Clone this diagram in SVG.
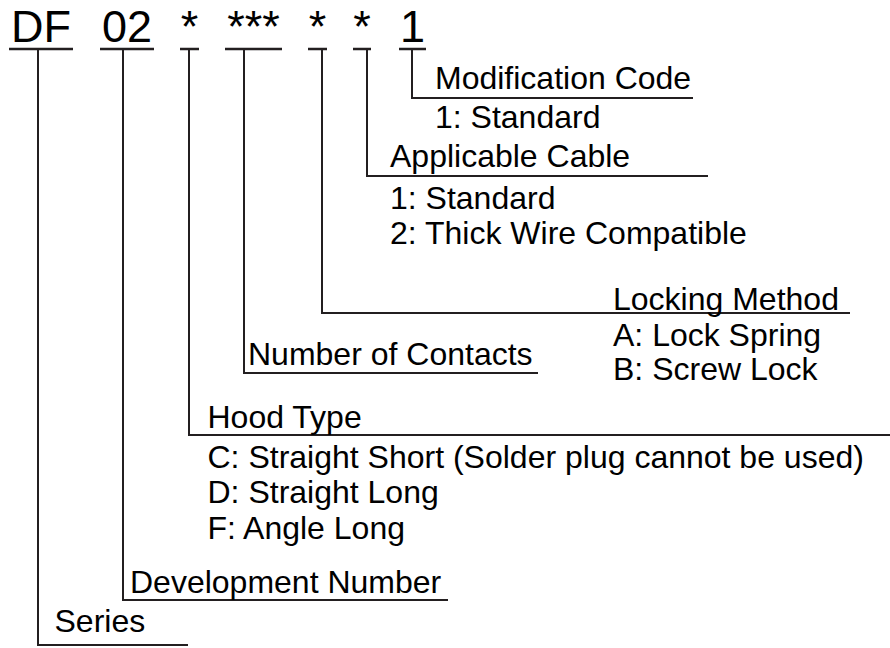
<svg xmlns="http://www.w3.org/2000/svg" width="890" height="648" viewBox="0 0 890 648">
<style>
text{font-family:"Liberation Sans",Arial,Helvetica,sans-serif;fill:#000}
.code{font-size:45px;text-anchor:middle}
.lbl{font-size:32px}
.ln{stroke:#231f20;stroke-width:2;fill:none}
.ul{stroke:#231f20;stroke-width:2.5;fill:none}
</style>
<rect width="890" height="648" fill="#fff"/>
<g id="code">
<text class="code" x="41" y="41.5">DF</text>
<text class="code" x="127" y="41.5">02</text>
<text class="code" x="189.5" y="41.5">*</text>
<text class="code" x="253.5" y="41.5">***</text>
<text class="code" x="317.5" y="41.5">*</text>
<text class="code" x="362" y="41.5">*</text>
<text class="code" x="412.5" y="41.5">1</text>
<path class="ul" d="M9 49H73M100 49H154M180 49H199M225 49H282M308 49H327M353 49H371M399 49H426"/>
</g>
<g id="connectors">
<path class="ln" d="M38 49V645H188"/>
<path class="ln" d="M123 49V600H448"/>
<path class="ln" d="M189 49V435H890"/>
<path class="ln" d="M244 49V373H538"/>
<path class="ln" d="M322 49V313H850"/>
<path class="ln" d="M367 49V176H708"/>
<path class="ln" d="M412 49V98H693"/>
</g>
<g id="modification">
<text class="lbl" x="435" y="89">Modification Code</text>
<text class="lbl" x="435" y="128">1: Standard</text>
</g>
<g id="cable">
<text class="lbl" x="390" y="167">Applicable Cable</text>
<text class="lbl" x="390" y="209">1: Standard</text>
<text class="lbl" x="390" y="244">2: Thick Wire Compatible</text>
</g>
<g id="locking">
<text class="lbl" x="613" y="310">Locking Method</text>
<text class="lbl" x="613" y="346">A: Lock Spring</text>
<text class="lbl" x="613" y="380">B: Screw Lock</text>
</g>
<g id="contacts">
<text class="lbl" x="248" y="365">Number of Contacts</text>
</g>
<g id="hood">
<text class="lbl" x="207.5" y="428">Hood Type</text>
<text class="lbl" x="207.5" y="468">C: Straight Short (Solder plug cannot be used)</text>
<text class="lbl" x="207.5" y="503">D: Straight Long</text>
<text class="lbl" x="207.5" y="539">F: Angle Long</text>
</g>
<g id="development">
<text class="lbl" x="130" y="593">Development Number</text>
</g>
<g id="series">
<text class="lbl" x="54.5" y="632">Series</text>
</g>
</svg>
